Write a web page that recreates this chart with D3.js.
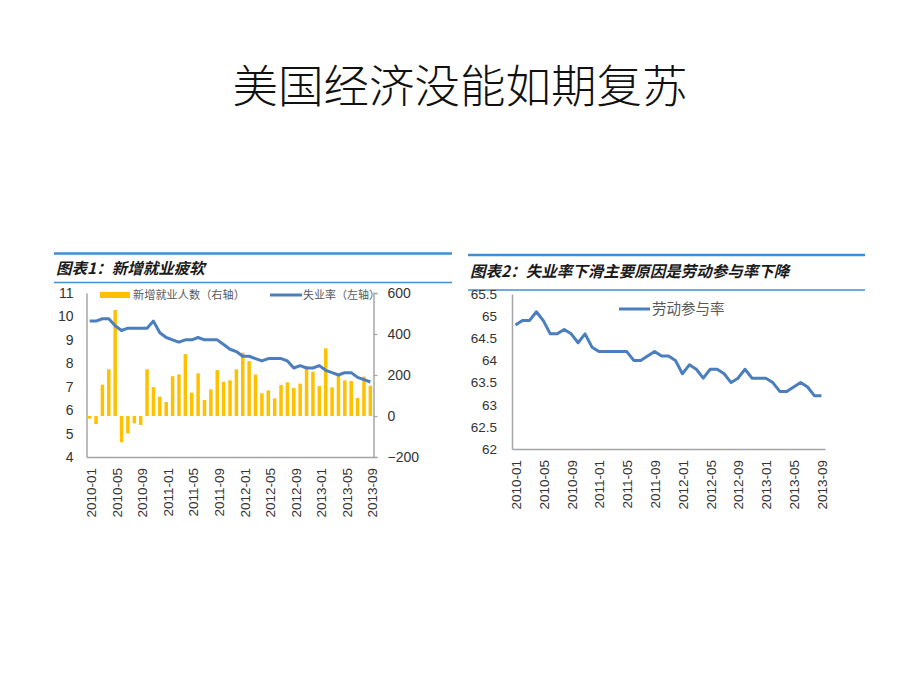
<!DOCTYPE html>
<html><head><meta charset="utf-8">
<script src="https://cdn.jsdelivr.net/npm/d3@7"></script>
<style>body{margin:0;background:#fff}svg{display:block}</style>
</head><body>
<svg id="c" width="920" height="690"></svg>
<script>
// ---- data ----
const months = [];
for (let y = 2010; y <= 2013; y++) for (let m = 1; m <= 12; m++) {
  if (y === 2013 && m > 9) break;
  months.push(y + "-" + String(m).padStart(2, "0"));
}
const tickMonths = ["2010-01","2010-05","2010-09","2011-01","2011-05","2011-09","2012-01","2012-05","2012-09","2013-01","2013-05","2013-09"];
const payrolls = [-13,-39,153,228,517,-128,-85,-36,-44,228,141,94,68,194,203,302,114,208,78,130,224,167,174,228,309,268,202,111,125,86,151,164,137,158,244,216,146,330,140,195,174,171,88,192,148];
const unemployment = [9.8,9.8,9.9,9.9,9.6,9.4,9.5,9.5,9.5,9.5,9.8,9.3,9.1,9.0,8.9,9.0,9.0,9.1,9.0,9.0,9.0,8.8,8.6,8.5,8.3,8.3,8.2,8.1,8.2,8.2,8.2,8.1,7.8,7.9,7.8,7.8,7.9,7.7,7.6,7.5,7.6,7.6,7.4,7.3,7.2];
const participation = [64.8,64.9,64.9,65.1,64.9,64.6,64.6,64.7,64.6,64.4,64.6,64.3,64.2,64.2,64.2,64.2,64.2,64.0,64.0,64.1,64.2,64.1,64.1,64.0,63.7,63.9,63.8,63.6,63.8,63.8,63.7,63.5,63.6,63.8,63.6,63.6,63.6,63.5,63.3,63.3,63.4,63.5,63.4,63.2,63.2];
const leftTicks = [4,5,6,7,8,9,10,11];
const rightTicks = [-200,0,200,400,600];
const partTicks = [62,62.5,63,63.5,64,64.5,65,65.5];

const svg = d3.select("#c");
const FONT = "'Liberation Sans', Arial, sans-serif";
const CJK = "'Noto Sans CJK SC', sans-serif";
const axisCol = "#a6a6a6", textCol = "#333";
const gold = "#FFC000", blue = "#4a7ebf", hdrBlue = "#3d8fd6";

// Title
svg.append("text").attr("x", 460).attr("y", 103).attr("text-anchor", "middle")
  .attr("font-family", CJK).attr("font-size", 45.5).attr("font-weight", 300).attr("fill", "#111")
  .text("美国经济没能如期复苏");

function header(x0, x1, yTop, yBot, yText, label) {
  svg.append("line").attr("x1", x0).attr("x2", x1).attr("y1", yTop).attr("y2", yTop)
    .attr("stroke", hdrBlue).attr("stroke-width", 2.5);
  svg.append("line").attr("x1", x0).attr("x2", x1).attr("y1", yBot).attr("y2", yBot)
    .attr("stroke", hdrBlue).attr("stroke-width", 1.5);
  svg.append("text").attr("x", x0 + 2).attr("y", yText)
    .attr("font-family", CJK).attr("font-size", 15.5).attr("font-weight", "bold")
    .attr("font-style", "italic").attr("fill", "#1a1a1a").text(label);
}
header(54, 452, 253.5, 282.5, 274, "图表1：新增就业疲软");
header(468, 865, 255, 290, 276.5, "图表2：失业率下滑主要原因是劳动参与率下降");

// ---------- Chart 1 ----------
const L = {x0: 86.5, x1: 373.5, yT: 293, yB: 457};
const x1s = d3.scaleBand().domain(months).range([L.x0, L.x1]).paddingInner(0.45).paddingOuter(0.22);
const yL = d3.scaleLinear().domain([4, 11]).range([L.yB, L.yT]);
const yR = d3.scaleLinear().domain([-200, 600]).range([L.yB, L.yT]);
const g1 = svg.append("g");

g1.selectAll("rect.bar").data(payrolls).join("rect").attr("class", "bar")
  .attr("x", (d, i) => x1s(months[i]))
  .attr("width", x1s.bandwidth())
  .attr("y", d => Math.min(yR(0), yR(d)))
  .attr("height", d => Math.abs(yR(d) - yR(0)))
  .attr("fill", gold);

const aL = g1.append("g").attr("transform", `translate(${L.x0},0)`)
  .call(d3.axisLeft(yL).tickValues(leftTicks).tickSize(0).tickPadding(13).tickFormat(d3.format("d")));
const aR = g1.append("g").attr("transform", `translate(${L.x1},0)`)
  .call(d3.axisRight(yR).tickValues(rightTicks).tickSize(4).tickPadding(10).tickFormat(d3.format("d")));
const aB = g1.append("g").attr("transform", `translate(0,${L.yB})`)
  .call(d3.axisBottom(x1s).tickValues(tickMonths).tickSize(0).tickPadding(0));
[aL, aR].forEach(a => {
  a.select(".domain").attr("stroke", axisCol).attr("stroke-width", 1.5);
  a.selectAll(".tick line").attr("stroke", axisCol).attr("stroke-width", 1.2);
  a.selectAll("text").attr("font-family", FONT).attr("font-size", 14).attr("fill", textCol);
});
aB.select(".domain").attr("stroke", axisCol).attr("stroke-width", 1.5);
aB.selectAll("text").attr("font-family", FONT).attr("font-size", 13.5).attr("fill", textCol)
  .attr("transform", "rotate(-90)").attr("text-anchor", "end")
  .attr("x", -11).attr("y", 0).attr("dy", "0.5em");

const line1 = d3.line().x((d, i) => x1s(months[i]) + x1s.bandwidth() / 2).y(d => yL(d));
g1.append("path").datum(unemployment).attr("d", line1).attr("fill", "none")
  .attr("stroke", blue).attr("stroke-width", 3).attr("stroke-linejoin", "round");

// legend 1
g1.append("rect").attr("x", 100).attr("y", 292).attr("width", 30).attr("height", 6).attr("fill", gold);
g1.append("text").attr("x", 133).attr("y", 299).attr("font-family", CJK).attr("font-size", 11.2)
  .attr("fill", "#595959").text("新增就业人数（右轴）");
g1.append("line").attr("x1", 270).attr("x2", 302).attr("y1", 295).attr("y2", 295)
  .attr("stroke", blue).attr("stroke-width", 3);
g1.append("text").attr("x", 303).attr("y", 299).attr("font-family", CJK).attr("font-size", 11)
  .attr("fill", "#595959").text("失业率（左轴）");

// ---------- Chart 2 ----------
const R = {x0: 512, x1: 825, yT: 294, yB: 449};
const x2s = d3.scalePoint().domain(months).range([R.x0 + 3.5, R.x1 - 3.5]);
const y2 = d3.scaleLinear().domain([62, 65.5]).range([R.yB, R.yT]);
const g2 = svg.append("g");
const a2L = g2.append("g").attr("transform", `translate(${R.x0},0)`)
  .call(d3.axisLeft(y2).tickValues(partTicks).tickSize(0).tickPadding(15).tickFormat(d => String(d)));
a2L.select(".domain").attr("stroke", axisCol).attr("stroke-width", 1.5);
a2L.selectAll("text").attr("font-family", FONT).attr("font-size", 13.5).attr("fill", textCol);
const x2band = d3.scaleBand().domain(months).range([R.x0, R.x1]);
const a2B = g2.append("g").attr("transform", `translate(0,${R.yB})`)
  .call(d3.axisBottom(x2band).tickValues(tickMonths).tickSize(0).tickPadding(0));
a2B.select(".domain").attr("stroke", axisCol).attr("stroke-width", 1.5);
a2B.selectAll("text").attr("font-family", FONT).attr("font-size", 13.5).attr("fill", textCol)
  .attr("transform", "rotate(-90)").attr("text-anchor", "end")
  .attr("x", -11).attr("y", 0).attr("dy", "0.4em");
const line2 = d3.line().x((d, i) => x2s(months[i])).y(d => y2(d));
g2.append("path").datum(participation).attr("d", line2).attr("fill", "none")
  .attr("stroke", blue).attr("stroke-width", 3).attr("stroke-linejoin", "round");
g2.append("line").attr("x1", 619).attr("x2", 650).attr("y1", 309).attr("y2", 309)
  .attr("stroke", blue).attr("stroke-width", 3);
g2.append("text").attr("x", 652).attr("y", 314).attr("font-family", CJK).attr("font-size", 14.5)
  .attr("fill", "#595959").text("劳动参与率");
</script>
</body></html>
